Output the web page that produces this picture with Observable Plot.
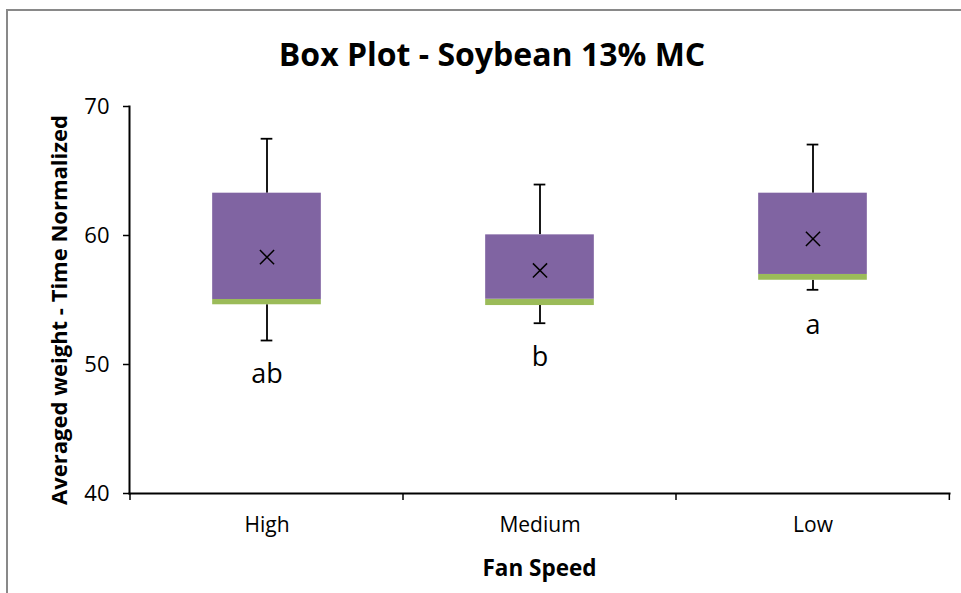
<!DOCTYPE html>
<html>
<head>
<meta charset="utf-8">
<script src="https://cdn.jsdelivr.net/npm/d3@7"></script>
<script src="https://cdn.jsdelivr.net/npm/@observablehq/plot@0.6"></script>
<style>
  html, body { margin: 0; padding: 0; background: #fff; overflow: hidden; }
  #wrap { position: relative; width: 961px; height: 593px; font-family: "Open Sans", sans-serif; }
  #frame { position: absolute; left: 6px; top: 9px; width: 1000px; height: 700px; border: 2px solid #898989; box-sizing: border-box; }
  #title { position: absolute; left: 0; width: 984px; top: 34px; text-align: center; font-weight: bold; font-size: 32px; line-height: 40px; color: #000; }
  #chart { position: absolute; left: 0; top: 0; }
</style>
</head>
<body>
<div id="wrap">
  <div id="frame"></div>
  <div id="chart"></div>
  <div id="title">Box Plot - Soybean 13% MC</div>
</div>
<script>
const categories = ["High", "Medium", "Low"];
const minValues = [51.86, 53.2, 55.79];
const q1Values = [54.63, 54.57, 56.53];
const medianValues = [55.04, 55.06, 56.98];
const q3Values = [63.28, 60.05, 63.28];
const maxValues = [67.5, 63.95, 67.05];
const meanValues = [58.32, 57.29, 59.74];
const letters = ["ab", "b", "a"];
const letterPositions = [48.6, 49.85, 52.35];
const yTicks = [40, 50, 60, 70];

const rows = categories.map((c, i) => ({
  cat: c, min: minValues[i], q1: q1Values[i], med: medianValues[i],
  q3: q3Values[i], max: maxValues[i], mean: meanValues[i],
  letter: letters[i], lpos: letterPositions[i]
}));

const W = 961, H = 593;
const mL = 129, mR = 12, mT = 106, mB = 100;
const band = (W - mL - mR) / categories.length;
const boxInset = (band - 109) / 2;
const capInset = (band - 12) / 2;

// band boundary ticks on the x axis, derived from the x scale
const boundaryTicks = (index, scales, values, dimensions) => {
  const g = document.createElementNS("http://www.w3.org/2000/svg", "g");
  const y0 = dimensions.height - dimensions.marginBottom;
  const xs = categories.map(c => scales.x(c));
  xs.push(xs[xs.length - 1] + band);
  for (const x of xs) {
    const l = document.createElementNS("http://www.w3.org/2000/svg", "line");
    l.setAttribute("x1", x); l.setAttribute("x2", x);
    l.setAttribute("y1", y0); l.setAttribute("y2", y0 + 7);
    l.setAttribute("stroke", "#000"); l.setAttribute("stroke-width", 1.5);
    g.appendChild(l);
  }
  return g;
};

const chart = Plot.plot({
  width: W, height: H,
  marginLeft: mL, marginRight: mR, marginTop: mT, marginBottom: mB,
  style: { fontFamily: "'Open Sans', sans-serif", background: "transparent", color: "#000" },
  x: { domain: categories, padding: 0, label: null },
  y: { domain: [40, 70], label: null },
  marks: [
    Plot.ruleX(rows, { x: "cat", y1: "q3", y2: "max", stroke: "#000", strokeWidth: 1.8 }),
    Plot.ruleX(rows, { x: "cat", y1: "min", y2: "q1", stroke: "#000", strokeWidth: 1.8 }),
    Plot.tickY(rows, { x: "cat", y: "max", stroke: "#000", strokeWidth: 1.8, inset: capInset }),
    Plot.tickY(rows, { x: "cat", y: "min", stroke: "#000", strokeWidth: 1.8, inset: capInset }),
    Plot.barY(rows, { x: "cat", y1: "q1", y2: "med", fill: "#9BBB59", insetLeft: boxInset, insetRight: boxInset }),
    Plot.barY(rows, { x: "cat", y1: "med", y2: "q3", fill: "#8064A2", insetLeft: boxInset, insetRight: boxInset }),
    Plot.dot(rows, { x: "cat", y: "mean", symbol: "times", r: 6.5, stroke: "#000", strokeWidth: 1.5 }),
    Plot.text(rows, { x: "cat", y: "lpos", text: "letter", fontSize: 27, lineAnchor: "bottom", fill: "#000" }),
    Plot.axisY({ ticks: yTicks, tickSize: 6, tickPadding: 14, fontSize: 22, tickFormat: d => d, strokeWidth: 1.5 }),
    Plot.axisX({ tickSize: 0, tickPadding: 24, fontSize: 21 }),
    Plot.frame({ anchor: "left", stroke: "#000", strokeWidth: 2 }),
    Plot.frame({ anchor: "bottom", stroke: "#000", strokeWidth: 2 }),
    boundaryTicks,
    Plot.text(["Fan Speed"], { frameAnchor: "bottom", dy: 82, fontSize: 22.5, fontWeight: "bold", fill: "#000" }),
    Plot.text(["Averaged weight - Time Normalized"], { frameAnchor: "left", textAnchor: "middle", dx: -70, dy: 10, rotate: -90, fontSize: 22, fontWeight: "bold", fill: "#000" })
  ]
});
document.getElementById("chart").appendChild(chart);
</script>
</body>
</html>
